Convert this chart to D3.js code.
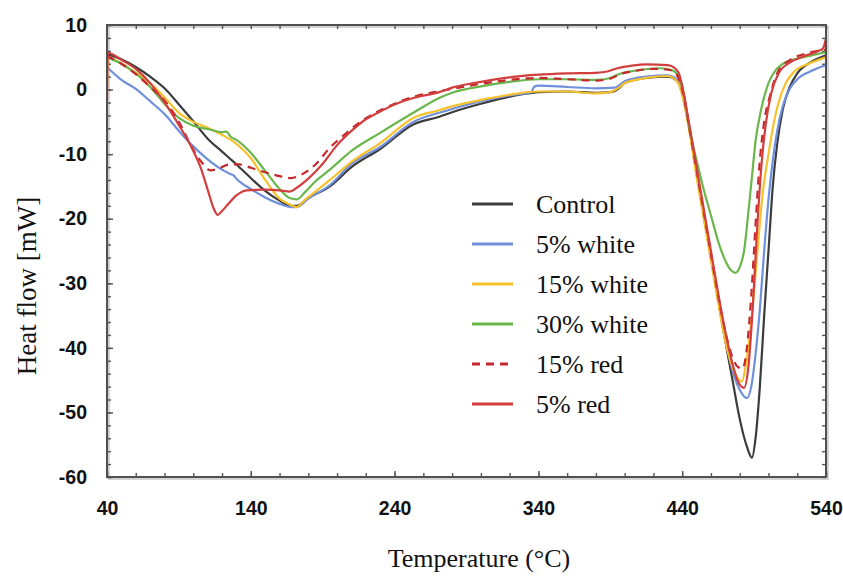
<!DOCTYPE html>
<html>
<head>
<meta charset="utf-8">
<script src="https://cdn.jsdelivr.net/npm/d3@7"></script>
<style>
  body { margin: 0; background: #fff; }
  svg { display: block; }
</style>
</head>
<body>
<div id="chart"></div>
<script>
// DSC curves, [temperature °C, heat flow mW]
const control = [[40,5.5],[50,4.7],[60,3.5],[70,2.0],[80,0.2],[90,-2.3],[100,-4.9],[110,-7.6],[120,-9.6],[125,-10.6],[130,-11.6],[140,-13.7],[150,-15.7],[160,-17.2],[168,-18.0],[172,-18.0],[180,-16.8],[195,-15.0],[210,-12.0],[230,-9.2],[253,-5.4],[271,-4.2],[280,-3.5],[300,-2.2],[320,-1.1],[340,-0.4],[360,-0.3],[380,-0.5],[390,-0.4],[396,0.2],[400,1.0],[415,1.8],[430,2.0],[435,1.6],[438,0.8],[441,-1.5],[445,-6],[450,-13],[455,-19.5],[460,-26],[465,-32.5],[470,-39],[475,-45],[480,-51],[485,-55.3],[488.5,-57],[491,-54],[494,-46],[497,-35],[500,-25],[503,-15],[506,-8.5],[510,-3],[515,0.5],[520,2.5],[530,4.3],[540,5.3]];
const white5 = [[40,3.5],[50,1.5],[60,0.1],[70,-1.8],[80,-3.8],[90,-6.4],[100,-8.8],[110,-10.8],[120,-12.4],[126,-13.1],[128,-13.3],[130,-13.8],[140,-15.4],[150,-16.7],[160,-17.7],[168,-18.2],[172,-18.2],[180,-16.9],[195,-14.8],[210,-11.5],[230,-8.9],[253,-5.0],[271,-3.6],[280,-3.0],[300,-1.8],[320,-0.9],[335,-0.4],[337,0.4],[340,0.6],[360,0.4],[380,0.2],[393,0.3],[400,1.3],[415,2.0],[430,2.2],[435,1.8],[438,1.0],[441,-1.2],[445,-6],[450,-13],[455,-19.5],[460,-26],[465,-32.5],[470,-38.5],[475,-43.5],[480,-46.5],[485,-47.8],[488,-46],[491,-41],[494,-34],[497,-25],[500,-17],[503,-11],[506,-6.5],[510,-2.5],[515,0.2],[520,1.6],[530,2.9],[540,3.8]];
const white15 = [[40,0.4],[40.5,5.0],[50,4.0],[60,2.6],[70,1.0],[80,-1.2],[90,-3.6],[100,-5.0],[110,-5.9],[120,-7.0],[130,-8.4],[140,-10.6],[150,-14.0],[160,-16.9],[167,-17.8],[172,-18.2],[178,-17.0],[185,-15.8],[195,-14.0],[210,-11.2],[230,-8.3],[253,-4.4],[271,-3.2],[280,-2.6],[300,-1.6],[320,-0.8],[340,-0.3],[360,-0.3],[380,-0.6],[390,-0.4],[396,0.3],[400,1.0],[415,1.8],[430,2.1],[435,1.6],[438,0.6],[441,-1.8],[445,-6.5],[450,-13.5],[455,-20],[460,-26.5],[465,-33],[470,-39],[475,-43],[479,-44.8],[481.5,-45.2],[484,-43],[488,-36],[492,-26],[496,-16],[500,-10],[503,-6],[507,-2],[512,1],[518,2.8],[528,4],[540,5]];
const white30 = [[40,5.0],[50,4.0],[60,2.5],[70,0.4],[80,-2.2],[90,-4.4],[100,-5.6],[110,-6.1],[120,-6.6],[123,-6.5],[126,-7.3],[130,-7.8],[140,-9.8],[150,-12.6],[160,-15.4],[167,-16.8],[172,-17.0],[178,-15.8],[185,-14.2],[195,-12.4],[210,-9.5],[230,-6.7],[253,-3.6],[271,-1.3],[280,-0.5],[300,0.5],[320,1.2],[340,1.6],[360,1.6],[380,1.5],[390,1.8],[395,2.3],[410,3.0],[425,3.3],[433,3.0],[437,2.2],[440,0.5],[445,-6],[450,-11],[455,-15.5],[460,-19.5],[465,-23.5],[470,-26.5],[474,-28],[477,-28.4],[480,-27.5],[483,-25],[486,-19],[488.5,-13.5],[491,-8],[495,-3],[500,1],[505,3],[510,4],[520,4.8],[530,5.3],[540,5.8]];
const red15 = [[40,5.2],[50,4.0],[60,2.4],[70,0.4],[80,-1.7],[90,-5.0],[100,-9.3],[106,-11.3],[112,-12.5],[118,-12.2],[125,-11.6],[132,-11.6],[140,-12.1],[150,-12.8],[160,-13.4],[168,-13.7],[175,-13.2],[185,-11.6],[195,-9.0],[205,-7.0],[215,-5.2],[225,-3.8],[240,-2.2],[255,-1.0],[270,-0.3],[280,0.1],[300,0.9],[320,1.5],[340,1.8],[360,1.6],[380,1.4],[390,1.7],[397,2.4],[405,2.8],[420,3.2],[430,3.1],[435,2.6],[438,1.5],[441,-1],[445,-6],[450,-12.5],[455,-19],[460,-25.5],[465,-32],[470,-37.5],[475,-41.5],[479,-43],[482,-43.2],[485,-40],[488,-32],[491,-21],[494,-11],[497,-5],[501,-1],[506,2.5],[515,4.6],[525,5.5],[540,6.2]];
const red5 = [[40,-1.8],[40.5,5.7],[50,4.6],[60,3.2],[70,1.0],[80,-2.0],[90,-5.5],[100,-9.5],[105,-12],[110,-15.5],[114,-18.3],[117,-19.4],[120,-18.8],[124,-17.8],[130,-16.4],[137,-15.6],[150,-15.5],[160,-15.6],[167,-15.8],[172,-15.2],[180,-13.8],[190,-11.5],[200,-8.6],[210,-6.4],[220,-4.6],[230,-3.4],[240,-2.3],[253,-1.3],[271,-0.4],[280,0.3],[300,1.2],[320,1.9],[340,2.3],[360,2.5],[380,2.6],[388,2.8],[395,3.3],[405,3.7],[415,3.9],[430,3.8],[435,3.3],[438,2.3],[441,-0.5],[445,-5.5],[450,-12],[455,-18.5],[460,-25],[465,-31.5],[470,-37.5],[475,-42.5],[479,-45.3],[483,-46.2],[486,-43],[489,-34],[492,-22],[495,-12],[498,-5.5],[502,-0.5],[507,2.5],[515,4.2],[525,5.2],[535,6.0],[538,6.4],[540,8.0]];

const seriesNames = ['Control', '5% white', '15% white', '30% white', '15% red', '5% red'];
const seriesData = [control, white5, white15, white30, red15, red5];
const seriesColors = ['#3c3c3c', '#6f8fdc', '#f6c12c', '#6bb64c', '#c4282c', '#d23e3e'];
const seriesDash = [null, null, null, null, '8,6', null];

const xTicks = [40, 140, 240, 340, 440, 540];
const yTicks = [10, 0, -10, -20, -30, -40, -50, -60];

const W = 843, H = 576;
const plot = { left: 107, right: 826, top: 25, bottom: 477 };

const svg = d3.select('#chart').append('svg')
    .attr('width', W)
    .attr('height', H);

const x = d3.scaleLinear().domain([40, 540]).range([plot.left, plot.right]);
const y = d3.scaleLinear().domain([-60, 10]).range([plot.bottom, plot.top]);

// frame shadow
svg.append('rect')
    .attr('x', plot.left + 2).attr('y', plot.top + 2)
    .attr('width', plot.right - plot.left).attr('height', plot.bottom - plot.top)
    .attr('fill', 'none').attr('stroke', '#d4d4d4').attr('stroke-width', 2);

// minor ticks on all four sides
const minorX = d3.range(40, 541, 20);
const minorY = d3.range(-60, 10.1, 2);
const tickStyle = g => {
    g.select('.domain').remove();
    g.selectAll('line').attr('stroke', '#555').attr('stroke-width', 1.4);
};

svg.append('g')
    .attr('transform', `translate(0,${plot.bottom})`)
    .call(d3.axisBottom(x).tickValues(minorX).tickSize(-4).tickFormat(''))
    .call(tickStyle);
svg.append('g')
    .attr('transform', `translate(0,${plot.top})`)
    .call(d3.axisTop(x).tickValues(minorX).tickSize(-4).tickFormat(''))
    .call(tickStyle);
svg.append('g')
    .attr('transform', `translate(${plot.left},0)`)
    .call(d3.axisLeft(y).tickValues(minorY).tickSize(-4).tickFormat(''))
    .call(tickStyle);
svg.append('g')
    .attr('transform', `translate(${plot.right},0)`)
    .call(d3.axisRight(y).tickValues(minorY).tickSize(-4).tickFormat(''))
    .call(tickStyle);

// major ticks with labels
const labelStyle = g => {
    g.select('.domain').remove();
    g.selectAll('line').attr('stroke', '#555').attr('stroke-width', 1.4);
    g.selectAll('text')
        .attr('fill', '#111')
        .style('font-family', '"Liberation Sans", Arial, sans-serif')
        .style('font-weight', 'bold')
        .style('font-size', '19.5px');
};

svg.append('g')
    .attr('transform', `translate(0,${plot.bottom})`)
    .call(d3.axisBottom(x).tickValues(xTicks).tickSize(-6).tickPadding(24).tickFormat(d => String(d)))
    .call(labelStyle);

svg.append('g')
    .attr('transform', `translate(${plot.left},0)`)
    .call(d3.axisLeft(y).tickValues(yTicks).tickSize(-6).tickPadding(20).tickFormat(d => String(d)))
    .call(labelStyle);

// data lines
const line = d3.line()
    .x(d => x(d[0]))
    .y(d => y(d[1]))
    .curve(d3.curveMonotoneX);

svg.append('clipPath').attr('id', 'plot-clip')
    .append('rect')
    .attr('x', plot.left).attr('y', plot.top - 8)
    .attr('width', plot.right - plot.left).attr('height', plot.bottom - plot.top + 8);

const lines = svg.append('g').attr('clip-path', 'url(#plot-clip)');
seriesData.forEach((d, i) => {
    lines.append('path')
        .datum(d)
        .attr('d', line)
        .attr('fill', 'none')
        .attr('stroke', seriesColors[i])
        .attr('stroke-width', 2.2)
        .attr('stroke-linejoin', 'round')
        .attr('stroke-dasharray', seriesDash[i]);
});

// frame on top
svg.append('rect')
    .attr('x', plot.left).attr('y', plot.top)
    .attr('width', plot.right - plot.left).attr('height', plot.bottom - plot.top)
    .attr('fill', 'none').attr('stroke', '#505050').attr('stroke-width', 2);

// legend
const legend = svg.append('g').attr('transform', 'translate(472,204)');
seriesNames.forEach((name, i) => {
    const row = legend.append('g').attr('transform', `translate(0,${i * 40})`);
    row.append('line')
        .attr('x1', 0).attr('x2', 41)
        .attr('stroke', seriesColors[i])
        .attr('stroke-width', 3)
        .attr('stroke-dasharray', seriesDash[i]);
    row.append('text')
        .attr('x', 64)
        .attr('dy', '0.33em')
        .style('font-family', '"Liberation Serif", "Times New Roman", serif')
        .style('font-size', '26px')
        .attr('fill', '#111')
        .text(name);
});

// axis titles
svg.append('text')
    .attr('x', 479)
    .attr('y', 567)
    .attr('text-anchor', 'middle')
    .style('font-family', '"Liberation Serif", "Times New Roman", serif')
    .style('font-size', '26px')
    .attr('fill', '#111')
    .text('Temperature (°C)');

svg.append('text')
    .attr('transform', 'translate(36,286) rotate(-90)')
    .attr('text-anchor', 'middle')
    .style('font-family', '"Liberation Serif", "Times New Roman", serif')
    .style('font-size', '27px')
    .attr('fill', '#111')
    .text('Heat flow [mW]');
</script>
</body>
</html>
